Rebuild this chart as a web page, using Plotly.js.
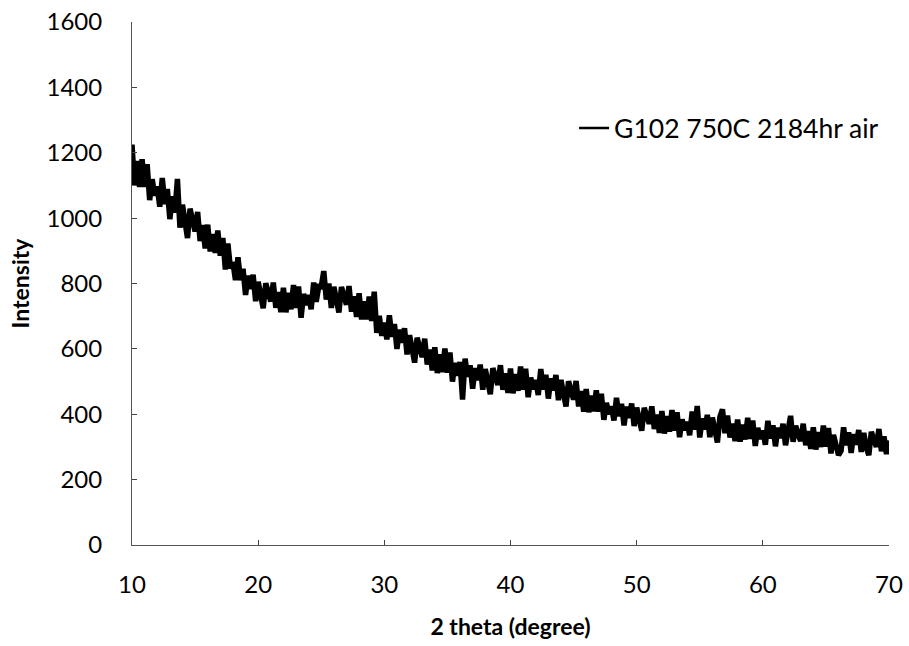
<!DOCTYPE html>
<html>
<head>
<meta charset="utf-8">
<script src="https://cdn.plot.ly/plotly-3.0.1.min.js"></script>
<style>
  html, body { margin: 0; padding: 0; background: #ffffff; }
  #chart { width: 909px; height: 646px; }
</style>
</head>
<body>
<div id="chart"></div>
<script>
// XRD scan, step 0.2 degree from 10 to 70
const seriesName = "G102 750C 2184hr air";
const scanStart = 10;
const scanStep = 0.2;
const intensity = [
  1225,1100,1175,1095,1180,
  1095,1165,1055,1119,1069,
  1097,1035,1123,1043,1089,
  997,1067,1017,1120,971,
  1041,975,939,1029,987,
  959,1019,930,979,907,
  980,898,951,894,962,
  885,939,843,922,846,
  865,810,880,810,845,
  765,824,783,827,746,
  805,752,724,801,768,
  745,803,726,774,712,
  787,712,771,721,795,
  725,791,695,768,734,
  765,721,803,744,791,
  790,838,751,800,725,
  790,738,711,789,757,
  735,792,714,761,698,
  770,690,745,690,760,
  685,775,649,701,640,
  680,629,703,637,676,
  600,659,619,663,583,
  642,588,558,634,599,
  575,631,552,598,534,
  605,526,583,529,601,
  527,589,500,557,518,
  560,445,570,515,550,
  478,541,504,552,475,
  538,487,461,541,510,
  490,550,475,525,465,
  540,464,523,472,546,
  475,539,452,512,476,
  505,459,538,476,521,
  448,510,473,520,443,
  505,452,424,501,468,
  445,502,424,471,408,
  477,406,457,409,473,
  408,463,383,435,400,
  424,381,450,394,432,
  366,423,389,433,364,
  420,373,350,420,391,
  371,424,355,399,343,
  410,341,394,347,413,
  350,406,330,384,351,
  377,336,408,353,425,
  329,387,354,398,330,
  390,340,314,392,415,
  342,396,329,371,318,
  384,316,368,323,389,
  325,381,303,358,324,
  350,307,380,326,366,
  302,359,327,371,305,
  362,395,316,365,337,
  318,371,305,348,294,
  360,292,345,300,365,
  301,358,280,337,305,
  275,288,360,305,345,
  282,339,307,352,285,
  343,298,275,346,320,
  300,355,287,332,278,
  320
];
const twoTheta = intensity.map((_, i) => +(scanStart + scanStep * i).toFixed(1));
const xTicks = [10, 20, 30, 40, 50, 60, 70];
const yTicks = [0, 200, 400, 600, 800, 1000, 1200, 1400, 1600];

const fontFam = "Lato, 'Open Sans', sans-serif";

const trace = {
  x: twoTheta,
  y: intensity,
  type: "scatter",
  mode: "lines",
  name: seriesName,
  showlegend: false,
  line: { color: "#000000", width: 5.5, shape: "linear" }
};

// legend entry only (thin line sample as in the reference legend)
const legendEntry = {
  x: [null],
  y: [null],
  type: "scatter",
  mode: "lines",
  name: seriesName,
  showlegend: true,
  line: { color: "#000000", width: 2.5 }
};

const layout = {
  width: 909,
  height: 646,
  margin: { l: 132, r: 20, t: 22, b: 101 },
  paper_bgcolor: "#ffffff",
  plot_bgcolor: "#ffffff",
  font: { family: fontFam, color: "#000000", size: 24 },
  showlegend: true,
  legend: {
    x: 0.584, y: 0.797, xanchor: "left", yanchor: "middle",
    bgcolor: "rgba(0,0,0,0)",
    font: { family: fontFam, size: 26.5, color: "#000000" },
    itemwidth: 30
  },
  xaxis: {
    range: [10, 70],
    tickvals: xTicks,
    ticktext: xTicks.map(String),
    ticks: "inside",
    ticklen: 5,
    tickcolor: "#444444",
    ticklabelstandoff: 18,
    showline: true,
    linecolor: "#555555",
    linewidth: 1,
    showgrid: false,
    zeroline: false,
    tickfont: { family: fontFam, size: 24, color: "#000000" },
    title: { text: "<b>2 theta (degree)</b>", font: { family: fontFam, size: 23, color: "#000000" }, standoff: 22 }
  },
  yaxis: {
    range: [0, 1600],
    tickvals: yTicks,
    ticktext: yTicks.map(String),
    ticks: "inside",
    ticklen: 5,
    tickcolor: "#444444",
    ticklabelstandoff: 24,
    showline: true,
    linecolor: "#555555",
    linewidth: 1,
    showgrid: false,
    zeroline: false,
    tickfont: { family: fontFam, size: 24, color: "#000000" },
    title: { text: "<b>Intensity</b>", font: { family: fontFam, size: 23, color: "#000000" }, standoff: 10 }
  }
};

Plotly.newPlot("chart", [trace, legendEntry], layout, { displayModeBar: false, staticPlot: true });
</script>
</body>
</html>
